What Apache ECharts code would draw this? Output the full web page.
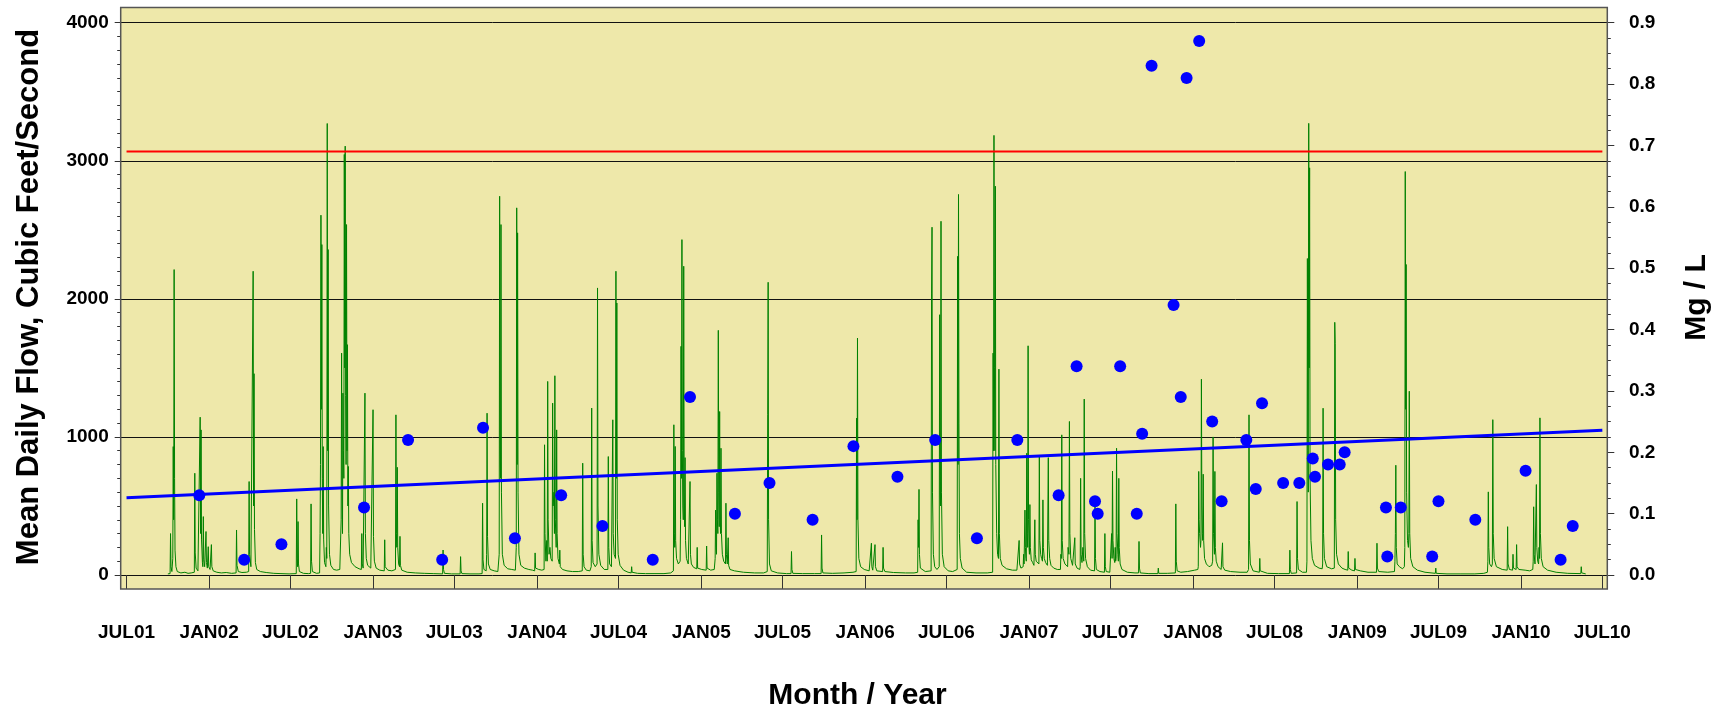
<!DOCTYPE html>
<html><head><meta charset="utf-8">
<script src="https://cdn.jsdelivr.net/npm/echarts@6/dist/echarts.min.js"></script>
<style>html,body{margin:0;padding:0;background:#fff}#c{width:1722px;height:712px}</style>
</head><body><div id="c"></div>
<script>
const tickDates = ['2001-07-01','2002-01-01','2002-07-01','2003-01-01','2003-07-01','2004-01-01','2004-07-01','2005-01-01','2005-07-01','2006-01-01','2006-07-01','2007-01-01','2007-07-01','2008-01-01','2008-07-01','2009-01-01','2009-07-01','2010-01-01','2010-07-01'];
const tickLabels = ['JUL01','JAN02','JUL02','JAN03','JUL03','JAN04','JUL04','JAN05','JUL05','JAN06','JUL06','JAN07','JUL07','JAN08','JUL08','JAN09','JUL09','JAN10','JUL10'];

// Mean daily flow (cfs), one array per calendar year: [MM-DD, cfs]
const flow2001 = [['10-01',8],['10-06',10],['10-07',300],['10-08',60],['10-10',25],['10-12',120],['10-13',930],['10-14',400],['10-15',2212],['10-16',700],['10-17',180],['10-19',60],['10-22',25],['10-30',15],['11-08',20],['11-15',12],['11-22',15],['11-29',20],['11-30',737],['12-01',160],['12-03',50],['12-07',30],['12-11',40],['12-12',1143],['12-13',300],['12-14',1051],['12-15',260],['12-17',90],['12-18',60],['12-19',423],['12-20',110],['12-22',60],['12-24',50],['12-25',315],['12-26',90],['12-28',50],['12-29',45],['12-30',205],['12-31',60]];
const flow2002 = [['01-03',40],['01-05',35],['01-06',220],['01-07',60],['01-10',30],['01-18',20],['01-28',15],['02-08',18],['02-20',12],['03-02',15],['03-03',326],['03-04',70],['03-07',25],['03-15',18],['03-25',20],['03-30',25],['03-31',677],['04-01',150],['04-04',60],['04-08',50],['04-09',2200],['04-10',500],['04-11',1458],['04-12',330],['04-14',90],['04-17',40],['04-25',25],['05-08',18],['05-25',12],['06-10',10],['06-28',8],['07-14',10],['07-15',551],['07-16',120],['07-17',60],['07-18',387],['07-19',80],['07-21',25],['07-30',12],['08-10',10],['08-15',12],['08-16',515],['08-17',100],['08-19',25],['08-28',12],['09-04',15],['09-05',300],['09-06',800],['09-07',2606],['09-08',1200],['09-09',2393],['09-10',700],['09-11',300],['09-12',930],['09-13',260],['09-15',90],['09-18',60],['09-19',200],['09-20',120],['09-21',3270],['09-22',900],['09-23',2357],['09-24',500],['09-26',150],['09-29',70],['10-05',40],['10-12',35],['10-19',40],['10-22',400],['10-23',1607],['10-24',600],['10-25',300],['10-26',1317],['10-27',900],['10-28',700],['10-29',3046],['10-30',1500],['10-31',3106],['11-01',1300],['11-02',800],['11-03',2538],['11-04',900],['11-05',1668],['11-06',500],['11-07',786],['11-08',300],['11-10',150],['11-14',90],['11-22',60],['12-01',45],['12-06',40],['12-07',300],['12-08',80],['12-10',50],['12-13',45],['12-14',1317],['12-15',300],['12-17',120],['12-20',70],['12-27',50],['12-31',60]];
const flow2003 = [['01-01',1197],['01-02',280],['01-04',100],['01-08',50],['01-16',35],['01-26',30],['01-27',255],['01-28',60],['02-03',35],['02-12',30],['02-20',40],['02-21',1160],['02-22',300],['02-23',200],['02-24',780],['02-25',200],['02-27',80],['03-01',60],['03-02',280],['03-03',70],['03-06',35],['03-18',20],['04-05',15],['04-25',12],['05-15',10],['06-05',8],['06-06',181],['06-07',40],['06-09',12],['06-25',8],['07-14',8],['07-15',133],['07-16',30],['07-18',10],['08-05',8],['08-25',8],['09-01',10],['09-02',520],['09-03',110],['09-05',40],['09-10',30],['09-11',150],['09-12',1172],['09-13',280],['09-15',80],['09-19',40],['09-28',30],['10-06',25],['10-09',150],['10-10',2743],['10-11',900],['10-12',700],['10-13',2538],['10-14',600],['10-16',150],['10-20',70],['10-28',45],['11-06',40],['11-14',35],['11-16',200],['11-17',2659],['11-18',800],['11-19',2478],['11-20',600],['11-22',150],['11-26',70],['12-04',50],['12-14',40],['12-22',35],['12-27',30],['12-28',160],['12-29',50]];
const flow2004 = [['01-05',40],['01-12',35],['01-17',40],['01-18',943],['01-19',300],['01-21',100],['01-23',250],['01-24',100],['01-25',1402],['01-26',400],['01-28',150],['01-30',200],['02-01',120],['02-04',100],['02-05',1245],['02-06',500],['02-08',600],['02-09',300],['02-10',1443],['02-11',400],['02-13',200],['02-14',1051],['02-15',300],['02-17',120],['02-20',80],['02-21',180],['02-22',60],['02-27',40],['03-08',30],['03-20',25],['04-02',25],['04-11',30],['04-12',810],['04-13',150],['04-15',60],['04-20',35],['04-28',30],['05-01',60],['05-02',1209],['05-03',250],['05-05',90],['05-10',60],['05-14',80],['05-15',2079],['05-16',500],['05-18',150],['05-22',70],['05-30',40],['06-07',40],['06-08',858],['06-09',200],['06-11',80],['06-15',60],['06-17',70],['06-18',1124],['06-19',300],['06-21',150],['06-24',120],['06-25',2200],['06-26',700],['06-27',1970],['06-28',400],['06-30',150],['07-04',70],['07-12',35],['07-22',20],['07-29',15],['07-30',60],['07-31',20],['08-12',12],['08-30',10],['09-20',10],['10-10',10],['10-25',15],['10-31',30],['11-01',1088],['11-02',300],['11-03',200],['11-04',931],['11-05',250],['11-07',120],['11-11',80],['11-15',100],['11-16',400],['11-17',1656],['11-18',700],['11-19',2429],['11-20',900],['11-21',500],['11-22',400],['11-23',2236],['11-24',600],['11-25',350],['11-26',850],['11-27',250],['11-29',120],['12-03',80],['12-06',70],['12-07',677],['12-08',150],['12-10',80],['12-15',55],['12-22',45],['12-23',200],['12-24',50]];
const flow2005 = [['01-02',40],['01-12',35],['01-13',210],['01-14',50],['01-22',35],['01-30',40],['02-01',120],['02-02',470],['02-03',200],['02-04',150],['02-05',737],['02-06',400],['02-07',300],['02-08',1772],['02-09',600],['02-10',350],['02-11',1184],['02-12',400],['02-13',300],['02-14',918],['02-15',300],['02-17',150],['02-20',100],['02-24',80],['02-25',520],['02-26',150],['02-28',80],['03-01',70],['03-02',270],['03-03',70],['03-06',40],['03-16',30],['04-05',20],['04-30',15],['05-20',15],['05-28',25],['05-29',1160],['05-30',2120],['05-31',400],['06-02',80],['06-06',30],['06-20',15],['07-10',10],['07-20',10],['07-21',170],['07-22',40],['07-24',12],['08-15',10],['09-10',10],['09-25',10],['09-26',290],['09-27',50],['09-29',15],['10-20',12],['11-15',15],['12-05',20],['12-12',25],['12-13',1136],['12-14',400],['12-15',1716],['12-16',400],['12-18',120],['12-22',60],['12-30',40]];
const flow2006 = [['01-10',30],['01-14',30],['01-15',230],['01-16',60],['01-18',35],['01-22',30],['01-23',220],['01-24',60],['01-27',30],['02-09',25],['02-10',200],['02-11',50],['02-14',25],['03-05',18],['04-01',15],['04-20',15],['04-28',20],['04-29',400],['04-30',200],['05-01',620],['05-02',150],['05-04',50],['05-15',25],['05-28',30],['05-29',2042],['05-30',2519],['05-31',600],['06-02',150],['06-05',60],['06-10',40],['06-15',60],['06-16',1885],['06-17',600],['06-18',500],['06-19',2562],['06-20',600],['06-22',150],['06-26',60],['07-05',30],['07-15',25],['07-25',40],['07-26',2308],['07-27',800],['07-28',2756],['07-29',1100],['07-30',300],['08-01',120],['08-05',50],['08-15',20],['09-05',15],['09-30',15],['10-12',20],['10-13',1607],['10-14',900],['10-15',3184],['10-16',1500],['10-17',900],['10-18',2816],['10-19',800],['10-21',300],['10-23',150],['10-25',120],['10-26',1491],['10-27',300],['10-29',120],['11-02',70],['11-12',45],['11-25',35],['12-05',35],['12-09',40],['12-10',250],['12-11',80],['12-14',50],['12-19',60],['12-20',150],['12-21',80],['12-22',70],['12-23',470],['12-24',200],['12-25',120],['12-26',100],['12-27',882],['12-28',300],['12-29',200],['12-30',1660],['12-31',400]];
const flow2007 = [['01-01',200],['01-02',150],['01-03',510],['01-04',200],['01-06',110],['01-09',90],['01-12',70],['01-13',80],['01-14',400],['01-15',150],['01-17',100],['01-20',90],['01-23',80],['01-24',860],['01-25',250],['01-27',150],['01-29',120],['01-31',100],['02-01',544],['02-02',200],['02-04',120],['02-07',90],['02-11',70],['02-12',80],['02-13',850],['02-14',250],['02-16',120],['02-19',70],['02-25',50],['03-05',40],['03-12',40],['03-13',150],['03-14',120],['03-15',1015],['03-16',250],['03-18',120],['03-22',80],['03-28',60],['03-29',200],['03-31',150],['04-01',1112],['04-02',300],['04-04',120],['04-08',70],['04-12',60],['04-13',270],['04-14',80],['04-18',50],['04-24',40],['04-25',60],['04-26',700],['04-27',150],['04-29',90],['05-01',200],['05-03',100],['05-04',1274],['05-05',300],['05-07',120],['05-11',60],['05-18',35],['05-27',30],['05-28',556],['05-29',120],['05-31',40],['06-08',25],['06-18',20],['06-19',300],['06-20',60],['06-22',25],['06-30',20],['07-03',30],['07-04',300],['07-05',120],['07-06',753],['07-07',250],['07-09',120],['07-11',90],['07-12',200],['07-13',100],['07-14',120],['07-15',918],['07-16',300],['07-18',150],['07-19',100],['07-20',700],['07-21',200],['07-23',80],['07-27',40],['08-08',20],['08-25',15],['09-02',15],['09-03',243],['09-04',50],['09-06',15],['09-25',10],['10-15',10],['10-16',50],['10-17',12],['11-05',12],['11-23',15],['11-24',515],['11-25',100],['11-27',30],['12-05',20],['12-20',25]];
const flow2008 = [['01-05',35],['01-12',40],['01-13',60],['01-14',750],['01-15',400],['01-16',300],['01-18',200],['01-19',250],['01-20',1418],['01-21',500],['01-22',300],['01-23',250],['01-24',730],['01-25',250],['01-27',120],['01-31',80],['02-06',60],['02-12',70],['02-14',100],['02-15',1000],['02-16',300],['02-18',150],['02-19',750],['02-20',200],['02-22',100],['02-26',60],['03-04',40],['03-06',50],['03-07',233],['03-08',60],['03-12',35],['03-25',25],['04-15',20],['05-01',20],['05-04',40],['05-05',1160],['05-06',250],['05-08',80],['05-14',30],['05-28',20],['05-29',120],['05-30',30],['06-15',12],['07-10',10],['08-03',10],['08-04',180],['08-05',40],['08-07',12],['08-19',15],['08-20',532],['08-21',120],['08-23',40],['09-01',20],['09-10',20],['09-11',100],['09-12',2292],['09-13',900],['09-14',600],['09-15',3271],['09-16',1500],['09-17',2949],['09-18',700],['09-20',250],['09-23',120],['09-28',70],['10-08',50],['10-15',45],['10-16',80],['10-17',1208],['10-18',300],['10-20',120],['10-25',60],['11-05',45],['11-11',50],['11-12',1830],['11-13',1675],['11-14',400],['11-16',150],['11-20',80],['11-28',50],['12-05',40],['12-11',35],['12-12',170],['12-13',50],['12-20',35],['12-26',30],['12-27',120],['12-28',40]];
const flow2009 = [['01-08',30],['01-25',20],['02-13',20],['02-14',230],['02-15',50],['02-18',25],['03-10',20],['03-25',25],['03-26',100],['03-27',300],['03-28',795],['03-29',200],['03-31',80],['04-05',60],['04-12',45],['04-16',60],['04-17',200],['04-18',2922],['04-19',1200],['04-20',2249],['04-21',600],['04-23',250],['04-25',200],['04-26',300],['04-27',1331],['04-28',300],['04-30',120],['05-05',60],['05-15',35],['06-01',20],['06-24',12],['06-25',50],['06-26',12],['07-20',8],['08-20',8],['09-20',8],['10-10',12],['10-18',20],['10-19',100],['10-20',602],['10-21',200],['10-23',80],['10-27',60],['10-29',80],['10-30',1125],['10-31',300],['11-02',120],['11-07',60],['11-20',40],['12-01',35],['12-02',350],['12-03',80],['12-06',40],['12-13',35],['12-14',150],['12-15',50],['12-21',40],['12-22',220],['12-23',60],['12-27',40]];
const flow2010 = [['01-10',35],['01-20',30],['01-27',40],['01-28',100],['01-29',494],['01-30',150],['02-01',80],['02-03',70],['02-04',655],['02-05',200],['02-07',100],['02-09',80],['02-10',200],['02-11',120],['02-12',1138],['02-13',300],['02-15',120],['02-19',60],['03-01',35],['03-20',20],['04-15',12],['05-14',10],['05-15',60],['05-16',15],['05-25',8]];
const flowByYear = {2001:flow2001,2002:flow2002,2003:flow2003,2004:flow2004,2005:flow2005,2006:flow2006,2007:flow2007,2008:flow2008,2009:flow2009,2010:flow2010};

// Sample concentrations (Mg / L)
const sampleDates = ['2001-12-10','2002-03-20','2002-06-11','2002-12-12','2003-03-20','2003-06-04','2003-09-03','2003-11-13','2004-02-24','2004-05-26','2004-09-15','2004-12-07','2005-03-17','2005-06-02','2005-09-06','2005-12-06','2006-03-14','2006-06-06','2006-09-07','2006-12-06','2007-03-08','2007-04-17','2007-05-28','2007-06-03','2007-07-23','2007-08-29','2007-09-10','2007-10-01','2007-11-19','2007-12-05','2007-12-18','2008-01-15','2008-02-13','2008-03-05','2008-04-29','2008-05-20','2008-06-03','2008-07-20','2008-08-25','2008-09-24','2008-09-29','2008-10-28','2008-11-23','2008-12-04','2009-03-06','2009-03-09','2009-04-08','2009-06-17','2009-07-01','2009-09-21','2010-01-11','2010-03-30','2010-04-26'];
const sampleValues = [0.13,0.025,0.05,0.11,0.22,0.025,0.24,0.06,0.13,0.08,0.025,0.29,0.10,0.15,0.09,0.21,0.16,0.22,0.06,0.22,0.13,0.34,0.12,0.10,0.34,0.10,0.23,0.83,0.44,0.29,0.81,0.87,0.25,0.12,0.22,0.14,0.28,0.15,0.15,0.19,0.16,0.18,0.18,0.20,0.11,0.03,0.11,0.03,0.12,0.09,0.17,0.025,0.08];

const trendDates = ['2001-07-01','2010-07-01'];
const trendValues = [0.126, 0.236];
const limitDates = ['2001-07-01','2010-07-01'];
const limitValues = [0.69, 0.69];

function ts(s){const p=s.split('-');return Date.UTC(+p[0],+p[1]-1,+p[2]);}
const tickTs = tickDates.map(ts);
const flowSeries = [];
Object.keys(flowByYear).forEach(y=>flowByYear[y].forEach(d=>flowSeries.push([ts(y+'-'+d[0]), d[1]])));
const FONT = "'Liberation Sans', Arial, Helvetica, sans-serif";

const chart = echarts.init(document.getElementById('c'), null, {renderer:'canvas'});
const frame = {x:120.7, y:7.5, width:1486.6, height:581.5};
chart.setOption({
  animation:false,
  backgroundColor:'#ffffff',
  grid:{left:120.7, right:114.7, top:22.7, bottom:137, containLabel:false},
  graphic:[
    {type:'rect', z:-10, silent:true, shape:frame, style:{fill:'#EEE8AA'}},
    {type:'rect', z:100, silent:true, shape:frame, style:{fill:null, stroke:'#555555', lineWidth:1.5}},
    {type:'text', x:29.5, y:297, rotation:Math.PI/2, style:{text:'Mean Daily Flow, Cubic Feet/Second', fontSize:31, fontWeight:'bold', fontFamily:FONT, fill:'#000', align:'center', verticalAlign:'middle'}},
    {type:'text', x:1697, y:297.5, rotation:Math.PI/2, style:{text:'Mg / L', fontSize:30, fontWeight:'bold', fontFamily:FONT, fill:'#000', align:'center', verticalAlign:'middle'}},
    {type:'text', x:857.5, y:696, style:{text:'Month / Year', fontSize:30, fontWeight:'bold', fontFamily:FONT, fill:'#000', align:'center', verticalAlign:'middle'}}
  ],
  xAxis:{
    type:'value', min:ts('2001-06-18'), max:ts('2010-07-12'), offset:14,
    axisLine:{show:false},
    splitLine:{show:false},
    axisTick:{show:true, customValues:tickTs, length:14, lineStyle:{color:'#333', width:1}},
    axisLabel:{show:true, customValues:tickTs, margin:34, fontSize:19, fontWeight:'bold', fontFamily:FONT, color:'#000',
      formatter:function(v){let best=0,bd=Infinity;tickTs.forEach((t,i)=>{const d=Math.abs(t-v);if(d<bd){bd=d;best=i;}});return tickLabels[best];}}
  },
  yAxis:[
    {type:'value', position:'left', min:0, max:4000, interval:1000,
      axisLine:{show:false},
      axisTick:{show:true, length:6, lineStyle:{color:'#333'}},
      minorTick:{show:true, splitNumber:10, length:3.5, lineStyle:{color:'#333'}},
      splitLine:{show:true, lineStyle:{color:'#111', width:1}},
      axisLabel:{margin:12, fontSize:19, fontWeight:'bold', fontFamily:FONT, color:'#000', formatter:function(v){return String(v);}}
    },
    {type:'value', position:'right', min:0, max:0.9, interval:0.1,
      axisLine:{show:false},
      axisTick:{show:true, length:7, lineStyle:{color:'#333'}},
      minorTick:{show:true, splitNumber:4, length:3.5, lineStyle:{color:'#333'}},
      splitLine:{show:false},
      axisLabel:{margin:48, align:'right', fontSize:19, fontWeight:'bold', fontFamily:FONT, color:'#000', formatter:function(v){return v.toFixed(1);}}
    }
  ],
  series:[
    {name:'Flow', type:'line', yAxisIndex:0, z:2, showSymbol:false, symbol:'none', silent:true,
      lineStyle:{color:'#008000', width:1}, data:flowSeries},
    {name:'Trend', type:'line', yAxisIndex:1, z:3, showSymbol:false, symbol:'none', silent:true,
      lineStyle:{color:'#0000FF', width:3}, data:trendDates.map((d,i)=>[ts(d), trendValues[i]])},
    {name:'Limit', type:'line', yAxisIndex:1, z:3, showSymbol:false, symbol:'none', silent:true,
      lineStyle:{color:'#FF0000', width:2}, data:limitDates.map((d,i)=>[ts(d), limitValues[i]])},
    {name:'Concentration', type:'scatter', yAxisIndex:1, z:4, symbol:'circle', symbolSize:12, silent:true,
      itemStyle:{color:'#0000FF', opacity:1}, data:sampleDates.map((d,i)=>[ts(d), sampleValues[i]])}
  ]
});
</script></body></html>
